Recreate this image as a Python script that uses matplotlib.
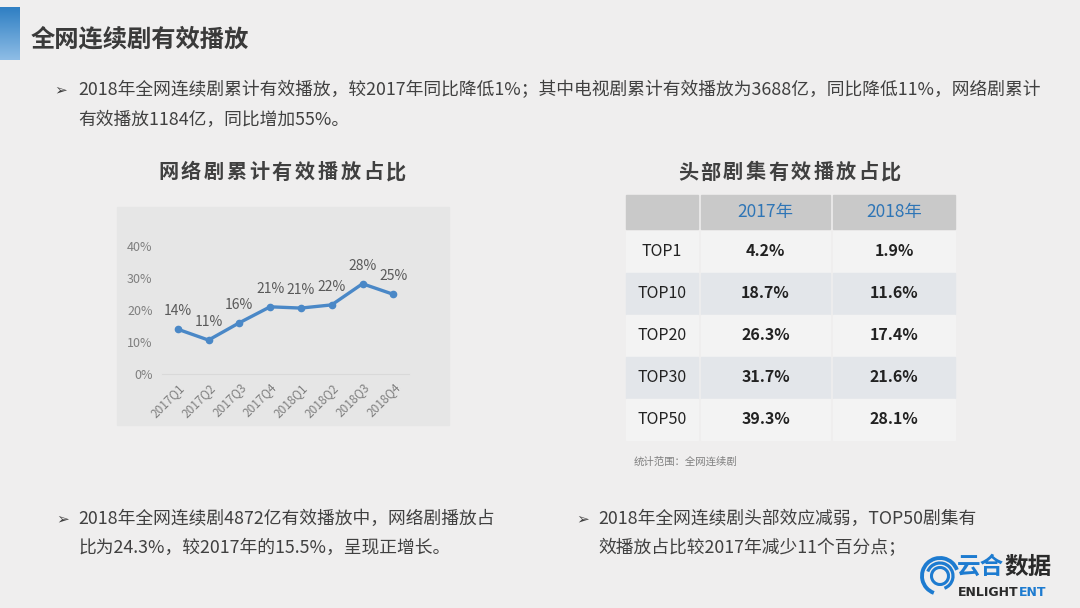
"""
全网连续剧有效播放 - 幻灯片页面复刻
"""

import numpy as np
import matplotlib.pyplot as plt
from matplotlib.colors import LinearSegmentedColormap
from matplotlib.patches import Rectangle, Arc

plt.rcParams['font.family'] = ['Noto Sans CJK SC', 'DejaVu Sans']

# 网络剧累计有效播放占比
quarters = ['2017Q1', '2017Q2', '2017Q3', '2017Q4',
            '2018Q1', '2018Q2', '2018Q3', '2018Q4']
share = [0.140, 0.106, 0.160, 0.210, 0.206, 0.216, 0.282, 0.249]
y_ticks = [0.0, 0.1, 0.2, 0.3, 0.4]

# 头部剧集有效播放占比
table_cols = ['2017年', '2018年']
table_rows = ['TOP1', 'TOP10', 'TOP20', 'TOP30', 'TOP50']
top_2017 = ['4.2%', '18.7%', '26.3%', '31.7%', '39.3%']
top_2018 = ['1.9%', '11.6%', '17.4%', '21.6%', '28.1%']

W, H = 1080, 608
PAGE = '#efeeee'
BLUE = '#4a88c7'
DARK = '#3a3a3a'
LOGO_BLUE = '#1d7bd0'

fig = plt.figure(figsize=(W / 100, H / 100), dpi=100, facecolor=PAGE)
bg = fig.add_axes([0, 0, 1, 1])
bg.set_xlim(0, W)
bg.set_ylim(H, 0)
bg.axis('off')


def spaced(ax, x0, x1, y, s, **kw):
    # 标题字间距较宽，逐字摆放
    xs = np.linspace(x0, x1, len(s))
    for ch, x in zip(s, xs):
        ax.text(x, y, ch, ha='center', va='center', **kw)


def after(t, s, **kw):
    # 紧接在上一段文字后面继续写（用于双色文字）
    return bg.annotate(s, xy=(1, 0.5), xycoords=t, va='center', ha='left', **kw)


# 顶部标题条
grad = np.linspace(0, 1, 64).reshape(-1, 1)
bg.imshow(grad, extent=(0, 20, 60, 7), aspect='auto', zorder=1,
          cmap=LinearSegmentedColormap.from_list('bar', ['#2f7fc3', '#8ebde6']))
bg.text(31, 39, '全网连续剧有效播放', fontsize=17.5, fontweight='bold',
        color=DARK, va='center', ha='left')

# 顶部说明文字
arrow_kw = dict(fontsize=11, color='#404040', va='center', family='DejaVu Sans')
txt_kw = dict(fontsize=12.8, color='#404040', va='center', ha='left')
bg.text(54, 90, '➢', **arrow_kw)
bg.text(78, 90, '2018年全网连续剧累计有效播放，较2017年同比降低1%；其中电视剧累计有效播放为3688亿，同比降低11%，网络剧累计', **txt_kw)
bg.text(78, 120, '有效播放1184亿，同比增加55%。', **txt_kw)

# 左侧折线图
spaced(bg, 168, 396, 172, '网络剧累计有效播放占比', fontsize=14.5,
       fontweight='bold', color='#404040')
bg.add_patch(Rectangle((117, 207), 332, 218, color='#e6e6e6', zorder=0))

ax = fig.add_axes([162.3 / W, (H - 374) / H, (408.7 - 162.3) / W, 128 / H])
ax.set_facecolor('none')
x = np.arange(len(quarters))
ax.plot(x, share, color=BLUE, lw=2.4, marker='o', ms=4.5, zorder=3)
for xi, v in zip(x, share):
    ax.annotate(f'{v:.0%}', (xi, v), xytext=(0, 13), textcoords='offset points',
                ha='center', va='center', fontsize=10, color='#595959')
ax.set_xlim(-0.5, len(quarters) - 0.5)
ax.set_ylim(0, 0.4)
ax.set_yticks(y_ticks)
ax.set_yticklabels([f'{t:.0%}' for t in y_ticks], fontsize=9, color='#7f7f7f')
ax.set_xticks(x)
ax.set_xticklabels(quarters, rotation=45, ha='right', rotation_mode='anchor',
                   fontsize=8.5, color='#7f7f7f')
ax.tick_params(length=0, pad=7)
ax.tick_params(axis='x', pad=5)
for s in ['top', 'right', 'left']:
    ax.spines[s].set_visible(False)
ax.spines['bottom'].set_color('#d9d9d9')

# 右侧表格
spaced(bg, 688, 891, 172, '头部剧集有效播放占比', fontsize=14.5,
       fontweight='bold', color='#404040')
col_x = [(626, 698), (701, 830), (833, 955)]
header_y, header_h = 195, 34
for x0, x1 in col_x:
    bg.add_patch(Rectangle((x0, header_y), x1 - x0, header_h, color='#c9c9c9', zorder=1))
for (x0, x1), name in zip(col_x[1:], table_cols):
    bg.text((x0 + x1) / 2, header_y + header_h / 2, name, fontsize=12.5,
            color='#2e75b6', ha='center', va='center')

row_h = 42
for i, (name, a, b) in enumerate(zip(table_rows, top_2017, top_2018)):
    y0 = 231 + i * row_h
    fill = '#e3e6ea' if i % 2 == 1 else '#f3f3f3'
    for x0, x1 in col_x:
        bg.add_patch(Rectangle((x0, y0), x1 - x0, row_h - 1.5, color=fill, zorder=1))
    yc = y0 + row_h / 2 - 0.5
    bg.text(sum(col_x[0]) / 2, yc, name, fontsize=11.5, color='#222222',
            ha='center', va='center')
    bg.text(sum(col_x[1]) / 2, yc, a, fontsize=11.5, color='#222222',
            fontweight='bold', ha='center', va='center')
    bg.text(sum(col_x[2]) / 2, yc, b, fontsize=11.5, color='#222222',
            fontweight='bold', ha='center', va='center')

bg.text(634, 462, '统计范围：全网连续剧', fontsize=7.5, color='#808080',
        ha='left', va='center')

# 底部说明
bg.text(56, 519, '➢', **arrow_kw)
bg.text(78, 519, '2018年全网连续剧4872亿有效播放中，网络剧播放占', **txt_kw)
bg.text(78, 548, '比为24.3%，较2017年的15.5%，呈现正增长。', **txt_kw)
bg.text(576, 519, '➢', **arrow_kw)
bg.text(598, 519, '2018年全网连续剧头部效应减弱，TOP50剧集有', **txt_kw)
bg.text(598, 548, '效播放占比较2017年减少11个百分点；', **txt_kw)

# 右下角标识
cx, cy = 940, 576
for r, t1, t2, lw in [(18, 110, 340, 2.8), (13, 200, 70, 2.3), (8.5, 0, 360, 2.2)]:
    bg.add_patch(Arc((cx, cy), 2 * r, 2 * r, theta1=t1, theta2=t2,
                     color=LOGO_BLUE, lw=lw, zorder=3))
t = bg.text(957, 567, '云合', fontsize=17, fontweight='bold', color=LOGO_BLUE,
            ha='left', va='center')
after(t, '数据', fontsize=17, fontweight='bold', color='#2a2a2a')
t = bg.text(958, 592, 'ENLIGHT', fontsize=9, fontweight='bold', color='#2a2a2a',
            ha='left', va='center', family='DejaVu Sans')
after(t, 'ENT', fontsize=9, fontweight='bold', color=LOGO_BLUE, family='DejaVu Sans')

fig.savefig('out.png', dpi=100, facecolor=PAGE)
